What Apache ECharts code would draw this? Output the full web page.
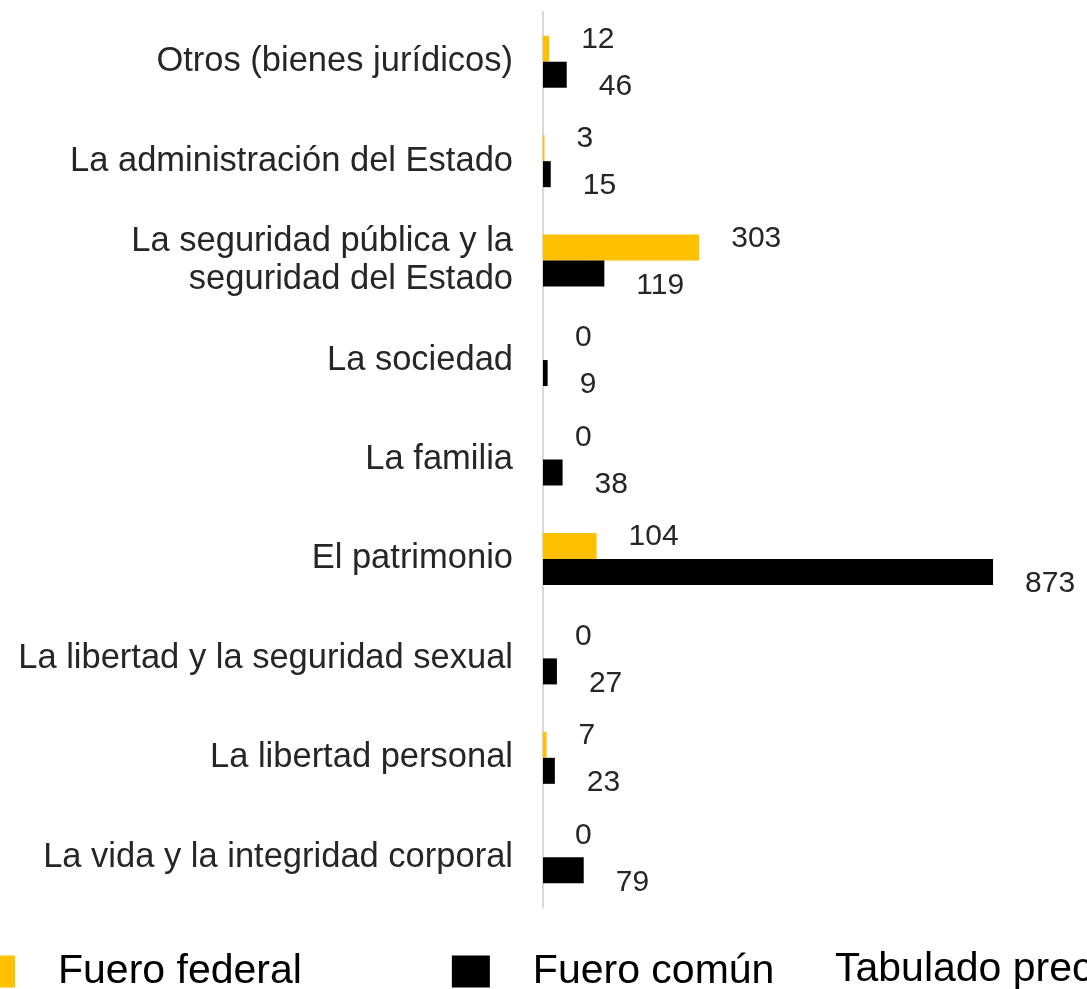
<!DOCTYPE html>
<html>
<head>
<meta charset="utf-8">
<script src="https://cdn.jsdelivr.net/npm/echarts@6/dist/echarts.min.js"></script>
<style>
  html, body { margin: 0; padding: 0; background: #fff; }
  #chart { width: 1087px; height: 989px; }
</style>
</head>
<body>
<div id="chart"></div>
<script>
// categorias (de abajo hacia arriba, como en el eje)
var categorias = [
  'La vida y la integridad corporal',
  'La libertad personal',
  'La libertad y la seguridad sexual',
  'El patrimonio',
  'La familia',
  'La sociedad',
  'La seguridad pública y la\nseguridad del Estado',
  'La administración del Estado',
  'Otros (bienes jurídicos)'
];
var fueroFederal = [0, 7, 0, 104, 0, 0, 303, 3, 12];
var fueroComun = [79, 23, 27, 873, 38, 9, 119, 15, 46];
var nombres = ['Fuero federal', 'Fuero común'];
var notaLegenda = 'Tabulado precodificado';

var fuente = 'Liberation Sans, Arial, Helvetica, sans-serif';
var colorTexto = '#262626';

var myChart = echarts.init(document.getElementById('chart'));

var option = {
  backgroundColor: '#ffffff',
  animation: false,
  grid: {
    left: 543,
    right: 28.5,
    top: 12,
    bottom: 82,
    containLabel: false
  },
  legend: {
    data: nombres,
    left: -28,
    top: 946,
    itemWidth: 38,
    itemHeight: 32,
    itemGap: 150,
    icon: 'rect',
    textStyle: {
      fontFamily: fuente,
      fontSize: 41,
      color: '#000',
      padding: [0, 0, 0, 38]
    }
  },
  graphic: [{
    type: 'text',
    left: 835,
    top: 949,
    style: {
      text: notaLegenda,
      font: '41px ' + fuente,
      fill: '#000'
    }
  }],
  xAxis: {
    type: 'value',
    min: 0,
    max: 1000,
    show: false
  },
  yAxis: {
    type: 'category',
    data: categorias,
    axisLine: {
      show: true,
      lineStyle: { color: '#d9d9d9', width: 2 }
    },
    axisTick: { show: false },
    splitLine: { show: false },
    axisLabel: {
      margin: 30,
      fontFamily: fuente,
      fontSize: 34.5,
      lineHeight: 38,
      color: colorTexto,
      align: 'right',
      padding: [4, 0, 0, 0]
    }
  },
  series: [
    {
      // la primera serie queda arriba dentro de cada categoria
      name: nombres[0],
      type: 'bar',
      data: fueroFederal,
      barWidth: 26,
      barGap: '0%',
      itemStyle: { color: '#FFC000' },
      label: {
        show: true,
        position: 'right',
        distance: 32,
        offset: [0, -9],
        fontFamily: fuente,
        fontSize: 30,
        color: colorTexto
      }
    },
    {
      name: nombres[1],
      type: 'bar',
      data: fueroComun,
      barWidth: 26,
      barGap: '0%',
      itemStyle: { color: '#000000' },
      label: {
        show: true,
        position: 'right',
        distance: 32,
        offset: [0, 12],
        fontFamily: fuente,
        fontSize: 30,
        color: colorTexto
      }
    }
  ]
};

myChart.setOption(option);
</script>
</body>
</html>
